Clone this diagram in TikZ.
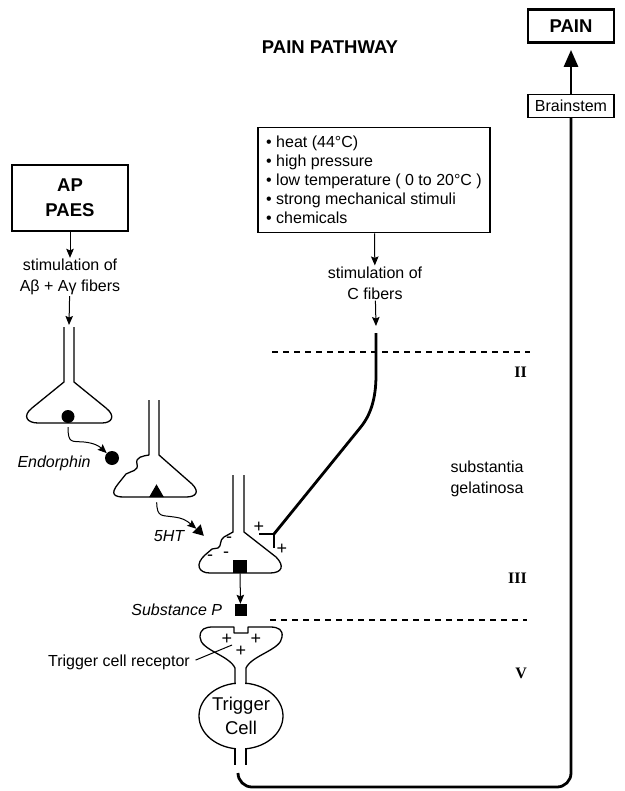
\documentclass[tikz,border=0pt]{standalone}
\usepackage{fontspec}
\setmainfont{Liberation Sans}
\newfontfamily\layerfont{Liberation Serif}
\usetikzlibrary{arrows.meta,positioning,shapes.geometric}

\tikzset{
  txt/.style={font=\fontsize{16}{21}\selectfont, align=center, inner sep=1pt},
  hdbox/.style={draw, line width=2.8pt, font=\fontsize{18.5}{25}\selectfont\bfseries, align=center, inner sep=0pt},
  flow/.style={-{Stealth[length=9pt,width=7.5pt,inset=1.5pt]}, line width=1pt},
  cellline/.style={line width=1.3pt, line join=round},
  fiber/.style={line width=2.8pt},
  layer/.style={dash pattern=on 6pt off 5pt, line width=1.1pt},
  lnum/.style={font=\fontsize{16}{18}\selectfont\layerfont\bfseries, anchor=east, inner sep=0pt},
  sgn/.style={font=\fontsize{18}{18}\selectfont, inner sep=0pt},
  ball/.style={circle, fill, inner sep=0pt},
  tri/.style={regular polygon, regular polygon sides=3, fill, inner sep=0pt},
  sq/.style={rectangle, fill, inner sep=0pt},
}

\begin{document}
\begin{tikzpicture}[x=1pt, y=-1pt]
\useasboundingbox (0,0) rectangle (624,791);

% boxes and titles
\node[font=\fontsize{18.5}{22}\selectfont\bfseries] (title) at (330,47) {PAIN PATHWAY};
\node[hdbox, minimum width=86, minimum height=33] (pain) at (571,26) {PAIN};
\node[draw, line width=1.2pt, txt, minimum width=86, minimum height=23] (brain) at (571,106) {Brainstem};
\node[hdbox, minimum width=116, minimum height=66] (ap) at (70,198) {AP\\PAES};
\node[draw, line width=1.6pt, txt, align=left, minimum width=232, minimum height=105,
      font=\fontsize{16}{19}\selectfont] (stim) at (374,180)
  {\textbullet\ heat (44°C)\\
   \textbullet\ high pressure\\
   \textbullet\ low temperature ( 0 to 20°C )\\
   \textbullet\ strong mechanical stimuli\\
   \textbullet\ chemicals};

\node[txt] (stimA) at (70,277) {stimulation of\\Aβ + Aγ fibers};
\node[txt] (stimC) at (375,283) {stimulation of\\C fibers};
\coordinate (nA) at (69,325);
\coordinate (cf) at (376,333);
\draw[flow] (ap) -- (stimA);
\draw[flow] (stimA) -- (nA);
\draw[flow] (stim) -- (stimC);
\draw[flow] (stimC) -- (376,326);

% laminae
\draw[layer] (272,352) -- (530,352);
\draw[layer] (270,620) -- (527,620);
\node[lnum] (lamII) at (527,372) {II};
\node[lnum] (lamIII) at (527,578) {III};
\node[lnum] (lamV) at (527,673) {V};
\node[txt] (sg) at (487,479) {substantia\\gelatinosa};

% A fiber neuron
\draw[cellline] (64,327) -- (64,382) -- (32,408) .. controls (22,416) and (27,423) .. (38,423)
  -- (102,423) .. controls (112,423) and (116,416) .. (106,408) -- (74,382) -- (74,327);
\node[ball, minimum size=13] (endA) at (68,416.5) {};
\node[ball, minimum size=14] (endo) at (112,458) {};
\node[txt, font=\fontsize{16}{21}\selectfont\itshape] (endolbl) at (54,463) {Endorphin};
\draw[flow, shorten <=4pt] (endA) .. controls (68,444) and (72,441) .. (84,442)
  .. controls (94,443) and (99,446) .. (endo);

% interneuron
\draw[cellline] (149,400) -- (149,455) .. controls (143,456) and (135,457) .. (137,464)
  .. controls (139,471) and (131,471) .. (126,474) -- (118,484)
  .. controls (110,494) and (114,497) .. (124,497) -- (186,497)
  .. controls (196,497) and (200,492) .. (192,484) -- (159,455) -- (159,400);
\node[tri, minimum size=17] (ht) at (156.5,492.8) {};
\node[tri, minimum size=13.5, rotate=-15] (fht) at (199,531) {};
\node[txt, font=\fontsize{16}{21}\selectfont\itshape] (htlbl) at (169,536) {5HT};
\draw[flow, shorten <=5pt] (ht) .. controls (157,518) and (162,515) .. (174,517)
  .. controls (182,518) and (186,520) .. (fht);

% C fiber neuron
\draw[cellline] (233,475) -- (233,532) -- (224,537) .. controls (219,540) and (222,546) .. (218,548)
  -- (212,549) -- (205,555) .. controls (195,564) and (198,573) .. (210,573) -- (270,573)
  .. controls (282,573) and (285,566) .. (276,557) -- (244,532) -- (244,475);
\node[sq, minimum size=13.5] (spA) at (240,566.3) {};
\node[sq, minimum size=12] (spB) at (240.5,610) {};
\node[txt, font=\fontsize{16}{21}\selectfont\itshape, left=11pt of spB] (splbl) {Substance P};
\draw[flow] (spA) -- (spB);

\coordinate (cT) at (274,534);
\draw[fiber] (cf) -- (376,375) .. controls (376,400) and (370,416) .. (360,428) -- (cT);
\draw[fiber] (259,534) -- (cT) -- (274,548);

\foreach \x/\y [count=\k] in {259/527, 282/549, 227/639, 256/639, 241/651}
  \node[sgn] (plus\k) at (\x,\y) {+};
\foreach \x/\y [count=\k] in {210/558, 226/555, 229/540}
  \node[sgn] (minus\k) at (\x,\y) {-};

% trigger cell
\node[draw, ellipse, line width=1.3pt, minimum width=84, minimum height=66,
      font=\fontsize{18.5}{24}\selectfont, align=center, inner sep=0pt] (trig) at (241,716) {Trigger\\Cell};
\fill[white] (235.7,678) rectangle (245.3,690);
\fill[white] (235.7,742) rectangle (245.3,755);
\draw[cellline] (235,684) -- (235,668) .. controls (229,655) and (200,650) .. (200,637)
  .. controls (200,629) and (205,627) .. (213,627) -- (234,627) -- (234,633) -- (248,633)
  -- (248,627) -- (270,627) .. controls (279,627) and (283,630) .. (282,637)
  .. controls (281,650) and (252,655) .. (246,668) -- (246,684);
\draw[cellline] (235,748) -- (235,765);
\draw[cellline] (246,748) -- (246,765);
\node[txt, anchor=east] (trl) at (191,662) {Trigger cell receptor};
\coordinate (rec) at (232,645);
\draw[line width=1pt, shorten <=5pt] (trl.east) -- (rec);

% back up to the brain
\coordinate (tcout) at (238,773);
\coordinate (bend) at (571,787);
\draw[fiber, rounded corners=14] (tcout) |- (bend) -- (brain.south);
\draw[fiber, -{Triangle[length=17pt,width=14pt]}, shorten >=6pt] (brain) -- (pain);
\end{tikzpicture}
\end{document}
